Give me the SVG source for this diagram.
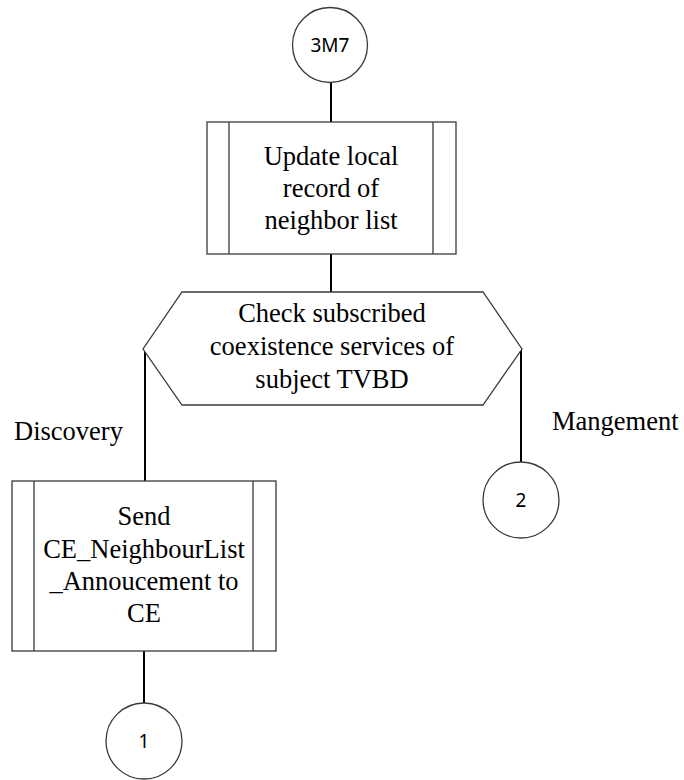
<svg xmlns="http://www.w3.org/2000/svg" width="684" height="780" viewBox="0 0 684 780">
  <style>
    .shape { fill: #ffffff; stroke: #3a3a3a; stroke-width: 1.3; }
    .bar { fill: none; stroke: #3a3a3a; stroke-width: 1.3; }
    .conn { fill: none; stroke: #000000; stroke-width: 2; }
    .lbl { font-family: "Liberation Serif", "Times New Roman", serif; font-size: 26.5px; fill: #000000; text-anchor: middle; }
    .side { font-family: "Liberation Serif", "Times New Roman", serif; font-size: 26.5px; fill: #000000; }
    .ref { font-family: "Noto Sans", "Liberation Sans", sans-serif; font-size: 19px; fill: #000000; text-anchor: middle; }
  </style>
  <rect width="684" height="780" fill="#ffffff"/>

  <!-- connectors -->
  <g id="connectors">
    <line class="conn" x1="331" y1="83" x2="331" y2="122"/>
    <line class="conn" x1="331" y1="254" x2="331" y2="292"/>
    <line class="conn" x1="145" y1="349" x2="145" y2="481"/>
    <line class="conn" x1="521" y1="349" x2="521" y2="462"/>
    <line class="conn" x1="144" y1="651" x2="144" y2="703"/>
  </g>

  <!-- entry connector -->
  <g id="conn-3M7">
    <circle class="shape" cx="330" cy="45" r="37.5"/>
    <text class="ref" x="330" y="52">3M7</text>
  </g>

  <!-- predefined process: update neighbor list -->
  <g id="update-record">
    <rect class="shape" x="207" y="122" width="249" height="132"/>
    <line class="bar" x1="229" y1="122" x2="229" y2="254"/>
    <line class="bar" x1="433" y1="122" x2="433" y2="254"/>
    <text class="lbl" x="331" y="165">Update local</text>
    <text class="lbl" x="331" y="197">record of</text>
    <text class="lbl" x="331" y="229">neighbor list</text>
  </g>

  <!-- decision: subscribed services -->
  <g id="check-services">
    <polygon class="shape" points="182,292 483,292 522,349 483,405 182,405 143,349"/>
    <text class="lbl" x="332" y="322">Check subscribed</text>
    <text class="lbl" x="332" y="355">coexistence services of</text>
    <text class="lbl" x="332" y="388">subject TVBD</text>
  </g>

  <!-- branch labels -->
  <g id="branch-labels">
    <text class="side" x="14" y="440">Discovery</text>
    <text class="side" x="552" y="430">Mangement</text>
  </g>

  <!-- predefined process: send announcement -->
  <g id="send-announcement">
    <rect class="shape" x="12" y="481" width="264" height="170"/>
    <line class="bar" x1="34" y1="481" x2="34" y2="651"/>
    <line class="bar" x1="253" y1="481" x2="253" y2="651"/>
    <text class="lbl" x="144" y="525">Send</text>
    <text class="lbl" x="144" y="558">CE_NeighbourList</text>
    <text class="lbl" x="144" y="590">_Annoucement to</text>
    <text class="lbl" x="144" y="622">CE</text>
  </g>

  <!-- exit connectors -->
  <g id="conn-1">
    <circle class="shape" cx="144" cy="741" r="38"/>
    <text class="ref" x="144" y="748">1</text>
  </g>
  <g id="conn-2">
    <circle class="shape" cx="521" cy="500" r="38"/>
    <text class="ref" x="521" y="507">2</text>
  </g>
</svg>
